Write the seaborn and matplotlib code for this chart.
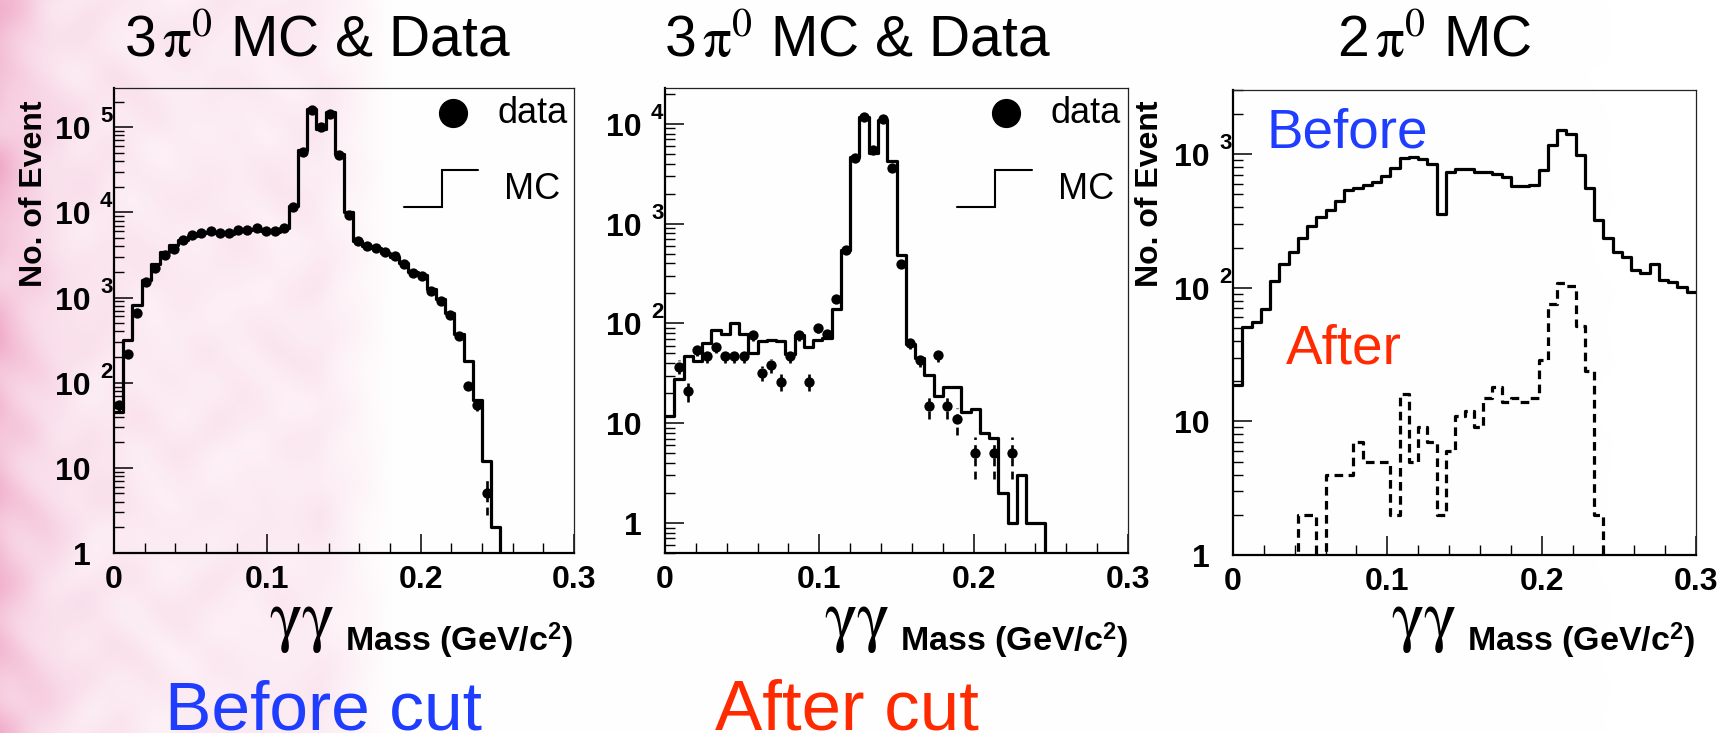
import numpy as np
import pandas as pd
import matplotlib
matplotlib.use("Agg")
import matplotlib.pyplot as plt
import matplotlib.transforms as mtransforms
import seaborn as sns
from matplotlib.ticker import FixedLocator, NullFormatter

nan = np.nan

# 50 bins of 6 MeV/c^2 covering the gamma-gamma mass range 0 - 0.3 GeV/c^2
mass_edges = np.linspace(0.0, 0.3, 51)
mass_centers = 0.5 * (mass_edges[:-1] + mass_edges[1:])

# 3 pi0 sample before the cut
mc_3pi0_before = [45, 316, 813, 1585, 2455, 3390, 4170, 4790, 5250, 5750,
                  5890, 5750, 5620, 6030, 6170, 6460, 6030, 5890, 6610, 11750,
                  53700, 162000, 95500, 151000, 47900, 10000, 4570, 4070, 3800, 3310,
                  3020, 2510, 2000, 1820, 1260, 955, 660, 372, 182, 63,
                  12, 2, 0, 0, 0, 0, 0, 0, 0, 0]
data_3pi0_before = [54, 219, 661, 1514, 2239, 3162, 3715, 4790, 5370, 5750,
                    6030, 5750, 5750, 6170, 6170, 6610, 6030, 6030, 6610, 11480,
                    51290, 158500, 100000, 144500, 46770, 9330, 4570, 4070, 3800, 3390,
                    3090, 2455, 1950, 1780, 1200, 912, 631, 355, 91, 54,
                    5, nan, nan, nan, nan, nan, nan, nan, nan, nan]

# 3 pi0 sample after the cut
mc_3pi0_after = [11.7, 27.5, 46.8, 41.7, 63, 85, 79, 100, 78, 50,
                 66, 68, 66, 49, 76, 58, 69, 72, 138, 550,
                 4680, 11750, 5130, 10960, 4270, 490, 62, 45, 30.5, 18.6,
                 22.9, 22.9, 12.9, 13.8, 7.9, 7.1, 2, 1, 3, 1,
                 1, 0, 0, 0, 0, 0, 0, 0, 0, 0]
data_3pi0_after = [nan, 37, 21, 54, 47, 58, 47, 47, 47, 76,
                   32, 38, 26, 47, 76, 26, 89, 79, 174, 550,
                   4570, 11750, 5500, 11220, 3630, 398, 63, 43, 15, 48,
                   15, 11, nan, 5, nan, 5, nan, 5, nan, nan,
                   nan, nan, nan, nan, nan, nan, nan, nan, nan, nan]

# 2 pi0 Monte Carlo before / after the cut
mc_2pi0_before = [18.6, 51, 55, 69, 112, 151, 186, 234, 288, 339,
                  380, 447, 537, 562, 589, 617, 692, 794, 933, 955,
                  912, 851, 355, 741, 776, 776, 741, 741, 708, 676,
                  575, 575, 589, 759, 1175, 1514, 1413, 977, 562, 324,
                  234, 186, 170, 135, 129, 151, 115, 110, 102, 93]
mc_2pi0_after = [0, 0, 0, 0, 0, 0, 0, 2, 2, 0,
                 4, 4, 4, 7, 5, 5, 5, 2, 16, 5,
                 9, 7, 2, 6, 11, 12, 9, 15, 18, 14,
                 15, 14, 15, 29, 76, 109, 103, 52, 24, 2,
                 0, 0, 0, 0, 0, 0, 0, 0, 0, 0]

panel_titles = [r"3$\,\mathrm{\pi^{0}}$ MC & Data",
                r"3$\,\mathrm{\pi^{0}}$ MC & Data",
                r"2$\,\mathrm{\pi^{0}}$ MC"]
x_tick_values = [0.0, 0.1, 0.2, 0.3]
x_tick_labels = ["0", "0.1", "0.2", "0.3"]
y_axis_title = "No. of Event"
mass_word = r"Mass (GeV/c$^{\mathbf{2}}$)"
pair_symbol = r"$\mathrm{\gamma\gamma}$"

BLUE = "#1f3dff"
RED = "#ff2a00"

sns.set_theme(style="ticks")
plt.rcParams.update({
    "font.family": ["Liberation Sans", "DejaVu Sans"],
    "mathtext.fontset": "custom",
    "mathtext.rm": "Liberation Serif",
    "mathtext.it": "Liberation Serif:italic",
    "mathtext.bf": "Liberation Sans:bold",
    "mathtext.sf": "Liberation Sans",
    "text.color": "black",
    "axes.labelcolor": "black",
    "xtick.color": "black",
    "ytick.color": "black",
    "axes.edgecolor": "black",
})

W, H = 1726, 733
fig = plt.figure(figsize=(W / 100, H / 100), dpi=100)
fig.patch.set_facecolor("white")

# pale pink marbled wash on the left edge of the slide
bg = fig.add_axes([0, 0, 1, 1], zorder=-10)
bg.axis("off")
yy, xx = np.mgrid[0:H, 0:W].astype(float)
edge = np.exp(-xx / 45.0)
wash = np.clip((395.0 - xx) / 75.0, 0.0, 1.0)
mottle = (np.sin(xx / 15.0 + 1.9 * np.sin(yy / 23.0))
          + np.sin(yy / 13.0 + 1.6 * np.cos(xx / 19.0))
          + 0.5 * np.sin((xx - 0.6 * yy) / 11.0 + 2.0 * np.sin(yy / 41.0))
          + 0.8 * np.cos((0.7 * xx + yy) / 29.0)) / 4.0
strength = (0.85 * edge + 0.38 * wash) * (1.0 + 0.40 * mottle)
pink = np.array([9, 52, 33]) / 255.0
img = np.clip(1.0 - strength[..., None] * pink, 0, 1)
bg.imshow(img, extent=(0, 1, 0, 1), aspect="auto", interpolation="bilinear")
bg.set_xlim(0, 1)
bg.set_ylim(0, 1)


def px_axes(left, top, right, bottom):
    return fig.add_axes([left / W, (H - bottom) / H, (right - left) / W, (bottom - top) / H])


def shifted(ax, dx_px, dy_px):
    base = mtransforms.blended_transform_factory(ax.transAxes, ax.transData)
    return base + mtransforms.ScaledTranslation(dx_px / 100, dy_px / 100, fig.dpi_scale_trans)


def decade_labels(ax, decades):
    # "10" right-aligned left of the axis, exponent hanging to its upper right
    for d in decades:
        base = "1" if d == 0 else "10"
        ax.text(0, 10.0 ** d, base, transform=shifted(ax, -23, -12), ha="right",
                va="baseline", fontsize=23, fontweight="bold")
        if d >= 2:
            ax.text(0, 10.0 ** d, str(d), transform=shifted(ax, -14, 5), ha="left",
                    va="baseline", fontsize=16, fontweight="bold")


def style_frame(ax, ymin, ymax, decades):
    ax.patch.set_visible(False)
    ax.set_yscale("log")
    ax.set_xlim(0.0, 0.3)
    ax.set_ylim(ymin, ymax)
    for s in ("left", "bottom"):
        ax.spines[s].set_linewidth(1.6)
        ax.spines[s].set_color("black")
    for s in ("top", "right"):
        ax.spines[s].set_linewidth(0.9)
        ax.spines[s].set_color("#222222")
    ax.set_xticks(x_tick_values, x_tick_labels, fontsize=23, fontweight="bold")
    ax.xaxis.set_minor_locator(FixedLocator(np.arange(0.0, 0.3001, 0.02)))
    ax.yaxis.set_major_locator(FixedLocator([10.0 ** d for d in decades]))
    ax.yaxis.set_major_formatter(NullFormatter())
    minors = [m * 10.0 ** d for d in range(-1, 6) for m in range(2, 10)]
    minors = [v for v in minors if ymin <= v <= ymax]
    ax.yaxis.set_minor_locator(FixedLocator(minors))
    ax.yaxis.set_minor_formatter(NullFormatter())
    ax.tick_params(axis="both", which="major", direction="in", length=13.5,
                   width=1.1, color="black", top=False, right=False)
    ax.tick_params(axis="both", which="minor", direction="in", length=7,
                   width=1.0, color="black", top=False, right=False)
    ax.tick_params(axis="x", which="major", pad=9)
    ax.set_xlabel("")
    ax.set_ylabel("")
    decade_labels(ax, decades)


def mc_hist(ax, counts, dashed=False):
    frame = pd.DataFrame({"mass": mass_centers, "count": np.asarray(counts, dtype=float)})
    sns.histplot(data=frame, x="mass", weights="count", bins=list(mass_edges),
                 element="step", fill=False, color="black", linewidth=2.3, ax=ax,
                 linestyle=(0, (2.7, 1.7)) if dashed else "-")


def data_points(ax, counts):
    counts = np.asarray(counts, dtype=float)
    eb = ax.errorbar(mass_centers, counts, yerr=np.sqrt(counts), fmt="none",
                     ecolor="black", elinewidth=1.9, capsize=0, zorder=3)
    for coll in eb[2]:
        coll.set_linestyle((0, (3.0, 2.0)))
    frame = pd.DataFrame({"mass": mass_centers, "count": counts}).dropna()
    sns.scatterplot(data=frame, x="mass", y="count", color="black", s=55, linewidth=0,
                    ax=ax, zorder=4, legend=False)


def legend_box(ax):
    ax.plot([0.737], [0.946], "o", ms=20, color="black", transform=ax.transAxes, clip_on=False)
    ax.text(0.833, 0.946, "data", fontsize=26, va="center", ha="left", transform=ax.transAxes)
    ax.plot([0.630, 0.712, 0.712, 0.792], [0.744, 0.744, 0.824, 0.824], color="black",
            lw=1.5, transform=ax.transAxes, solid_joinstyle="miter")
    ax.text(0.848, 0.782, "MC", fontsize=26, va="center", ha="left", transform=ax.transAxes)


def mass_label(right_px, baseline_px):
    fig.text(right_px / W, 1 - baseline_px / H, mass_word, fontsize=24.5, fontweight="bold",
             ha="right", va="baseline")
    fig.text((right_px - 238) / W, 1 - (baseline_px - 13) / H, pair_symbol, fontsize=50,
             math_fontfamily="stix", ha="right", va="baseline")


# panel 1: 3 pi0 before the cut
ax1 = px_axes(114, 88, 574, 553)
ax1.set_yscale("log")
mc_hist(ax1, mc_3pi0_before)
data_points(ax1, data_3pi0_before)
style_frame(ax1, 1.0, 10 ** 5.46, [0, 1, 2, 3, 4, 5])
legend_box(ax1)

# panel 2: 3 pi0 after the cut
ax2 = px_axes(665, 88, 1128, 553)
ax2.set_yscale("log")
mc_hist(ax2, mc_3pi0_after)
data_points(ax2, data_3pi0_after)
style_frame(ax2, 0.5, 10 ** 4.36, [0, 1, 2, 3, 4])
legend_box(ax2)

# panel 3: 2 pi0 MC before and after the cut
ax3 = px_axes(1233, 90, 1696, 555)
ax3.set_yscale("log")
mc_hist(ax3, mc_2pi0_before)
mc_hist(ax3, mc_2pi0_after, dashed=True)
style_frame(ax3, 1.0, 10 ** 3.48, [0, 1, 2, 3])
fig.text(1266 / W, 1 - 133 / H, "Before", color=BLUE, fontsize=39.5, va="center", ha="left")
fig.text(1286 / W, 1 - 350 / H, "After", color=RED, fontsize=39.5, va="center", ha="left")

# titles
for cx, title in zip((317, 857, 1434), panel_titles):
    fig.text(cx / W, 1 - 42 / H, title, fontsize=41, ha="center", va="center",
             math_fontfamily="stix")

# axis titles
for cx in (34, 1150):
    fig.text(cx / W, 1 - 194 / H, y_axis_title, fontsize=23, fontweight="bold",
             rotation=90, ha="center", va="center")
mass_label(573, 651)
mass_label(1128, 651)
mass_label(1695, 651)

# captions under the left two panels
fig.text(165 / W, 1 - 730 / H, "Before cut", color=BLUE, fontsize=50, ha="left", va="baseline")
fig.text(715 / W, 1 - 730 / H, "After cut", color=RED, fontsize=51, ha="left", va="baseline")

fig.savefig("out.png", dpi=100)
